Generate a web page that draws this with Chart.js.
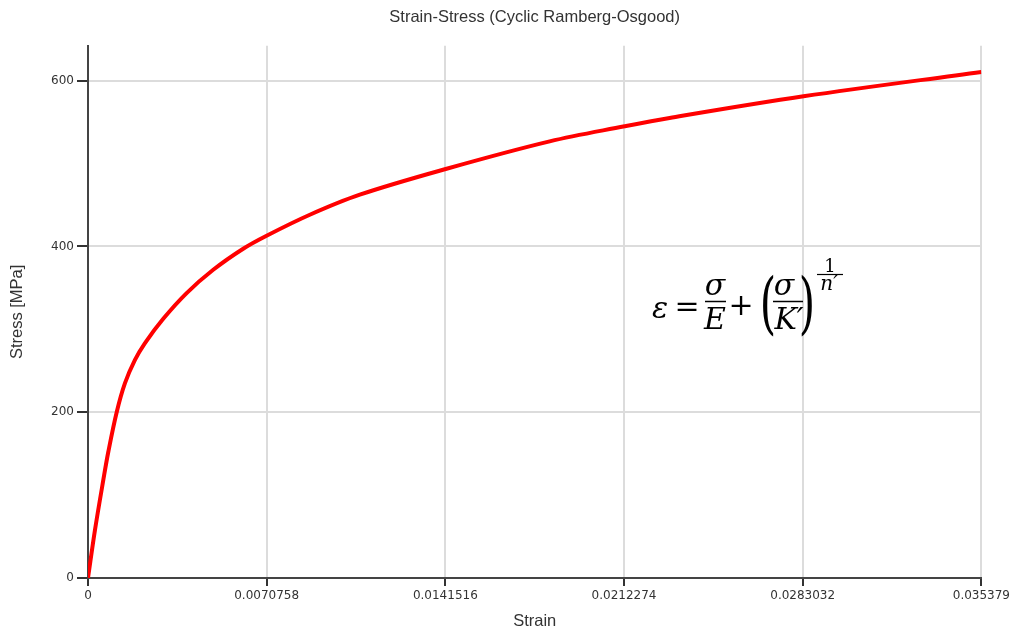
<!DOCTYPE html>
<html>
<head>
<meta charset="utf-8">
<title>Strain-Stress (Cyclic Ramberg-Osgood)</title>
<script src="https://cdn.jsdelivr.net/npm/chart.js@4/dist/chart.umd.min.js"></script>
<style>
    body { margin: 0; background: #fff; overflow: hidden; }
    #wrap { position: relative; width: 1013px; height: 632px; }
    #formula { position: absolute; left: 0; top: 0; pointer-events: none; }
    #formula text { font-family: 'DejaVu Serif', 'Liberation Serif', serif; fill: #000; }
</style>
</head>
<body>
<div id="wrap">
    <canvas id="chart" width="1013" height="632"></canvas>
    <svg id="formula" width="1013" height="632">
        <text x="652" y="318" font-size="30" font-style="italic">ε</text>
        <text x="687" y="316" font-size="30" text-anchor="middle">=</text>
        <text x="715" y="295" font-size="30" font-style="italic" text-anchor="middle">σ</text>
        <line x1="705" y1="301.5" x2="726" y2="301.5" stroke="#000" stroke-width="1.5"/>
        <text x="715" y="329" font-size="30" font-style="italic" text-anchor="middle">E</text>
        <text x="741" y="315" font-size="30" text-anchor="middle">+</text>
        <g transform="translate(768,305) scale(1,1.6)"><text x="0" y="13" font-size="42" text-anchor="middle">(</text></g>
        <text x="784" y="295" font-size="30" font-style="italic" text-anchor="middle">σ</text>
        <line x1="773" y1="301.5" x2="803" y2="301.5" stroke="#000" stroke-width="1.5"/>
        <text x="789" y="329" font-size="30" font-style="italic" text-anchor="middle">K′</text>
        <g transform="translate(807,305) scale(1,1.6)"><text x="0" y="13" font-size="42" text-anchor="middle">)</text></g>
        <text x="830" y="272" font-size="18" text-anchor="middle">1</text>
        <line x1="817" y1="274.5" x2="843" y2="274.5" stroke="#000" stroke-width="1.2"/>
        <text x="829" y="290" font-size="20" font-style="italic" text-anchor="middle">n′</text>
    </svg>
</div>
<script>
// values
const strain = [0, 0.000277, 0.000605, 0.000803, 0.001136, 0.001464, 0.00186, 0.002256, 0.00298, 0.003906,
    0.004959, 0.006146, 0.007072, 0.008785, 0.010764, 0.014167, 0.018283, 0.021251, 0.023032, 0.028335, 0.035379];
const stress = [0, 58, 118, 152, 200, 235, 263, 283.4, 312.7, 343.7,
    371.8, 397.2, 412.9, 438.2, 462.4, 493.4, 526.7, 544.9, 555, 581.1, 610.5];

const xTicks = [0, 0.0070758, 0.0141516, 0.0212274, 0.0283032, 0.035379];
const xTickLabels = ['0', '0.0070758', '0.0141516', '0.0212274', '0.0283032', '0.035379'];
const yTicks = [0, 200, 400, 600];

const tickFont = { family: 'DejaVu Sans', size: 12 };
const titleFont = { family: 'Liberation Sans', size: 16.5, weight: 'normal' };

const points = strain.map((x, i) => ({ x: x, y: stress[i] }));

new Chart(document.getElementById('chart').getContext('2d'), {
    type: 'scatter',
    data: {
        datasets: [{
            data: points,
            showLine: true,
            borderColor: '#ff0000',
            borderWidth: 4,
            pointRadius: 0,
            tension: 0.35,
            fill: false
        }]
    },
    options: {
        responsive: false,
        devicePixelRatio: 1,
        animation: false,
        layout: { padding: { left: 0, right: 31, top: 0, bottom: 0 } },
        plugins: {
            legend: { display: false },
            tooltip: { enabled: false },
            title: {
                display: true,
                text: 'Strain-Stress (Cyclic Ramberg-Osgood)',
                color: '#333',
                font: titleFont,
                fullSize: false,
                padding: { top: 8, bottom: 18 }
            }
        },
        scales: {
            x: {
                type: 'linear',
                min: 0,
                max: 0.035379,
                afterBuildTicks: (scale) => { scale.ticks = xTicks.map(v => ({ value: v })); },
                afterFit: (scale) => { scale.height = 54; },
                ticks: {
                    autoSkip: false,
                    maxRotation: 0,
                    color: '#333',
                    font: tickFont,
                    padding: 3,
                    callback: (value, index) => xTickLabels[index]
                },
                grid: { color: '#dcdcdc', lineWidth: 2, tickColor: '#333', tickWidth: 2, tickLength: 8 },
                border: { color: '#444', width: 2 },
                title: { display: true, text: 'Strain', color: '#333', font: titleFont, padding: { top: 0, bottom: 1 } }
            },
            y: {
                min: 0,
                max: 642,
                afterBuildTicks: (scale) => { scale.ticks = yTicks.map(v => ({ value: v })); },
                afterFit: (scale) => { scale.width = 88; },
                ticks: { color: '#333', font: tickFont, padding: 3 },
                grid: { color: '#dcdcdc', lineWidth: 2, tickColor: '#333', tickWidth: 2, tickLength: 11 },
                border: { color: '#444', width: 2 },
                title: { display: true, text: 'Stress [MPa]', color: '#333', font: titleFont, padding: { top: 8, bottom: 0 } }
            }
        }
    }
});
</script>
</body>
</html>
